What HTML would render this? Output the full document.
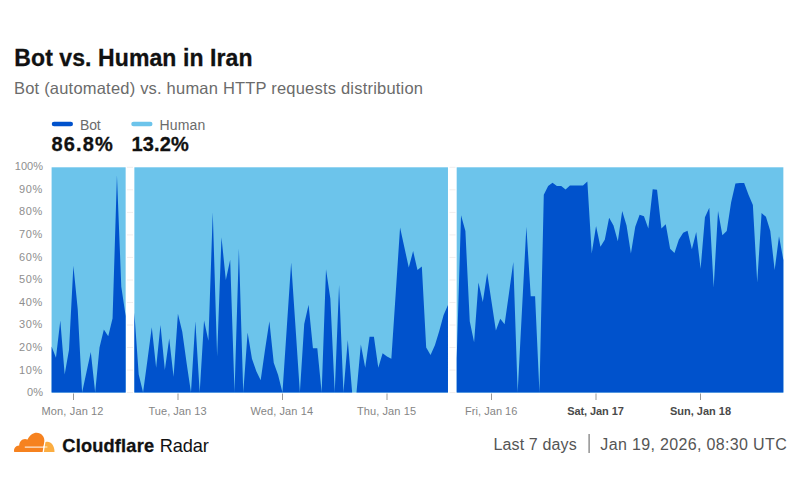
<!DOCTYPE html>
<html><head><meta charset="utf-8">
<style>
html,body{margin:0;padding:0;background:#fff;}
body{width:800px;height:500px;position:relative;overflow:hidden;font-family:"Liberation Sans",sans-serif;}
.t{position:absolute;white-space:nowrap;}
.yl{font-size:11px;color:#8e8e8e;text-align:right;width:40px;left:3px;}
.xl{font-size:11px;color:#777;transform:translateX(-50%);top:404px;}
.xl.b{font-weight:bold;color:#555;}
svg{position:absolute;left:0;top:0;}
</style></head><body>
<div class="t" id="title" style="left:14.30px;top:47.40px;font-size:23px;font-weight:bold;letter-spacing:0.088px;color:#111;line-height:1;-webkit-text-stroke:0.3px #111;">Bot vs. Human in Iran</div>
<div class="t" id="sub" style="left:14.00px;top:80.30px;font-size:16.5px;font-weight:normal;letter-spacing:0.203px;color:#6b6b6b;line-height:1;">Bot (automated) vs. human HTTP requests distribution</div>
<div class="t" id="lb" style="left:80.00px;top:117.62px;font-size:14px;font-weight:normal;letter-spacing:-0.133px;color:#6b6b6b;line-height:1;">Bot</div>
<div class="t" id="lh" style="left:159.50px;top:117.62px;font-size:14px;font-weight:normal;letter-spacing:0.152px;color:#6b6b6b;line-height:1;">Human</div>
<div class="t" id="vb" style="left:51.50px;top:134.14px;font-size:20px;font-weight:bold;letter-spacing:1.133px;color:#111;line-height:1;-webkit-text-stroke:0.3px #111;">86.8%</div>
<div class="t" id="vh" style="left:131.50px;top:134.14px;font-size:20px;font-weight:bold;letter-spacing:0.133px;color:#111;line-height:1;-webkit-text-stroke:0.3px #111;">13.2%</div>
<div class="t" id="x0" style="left:41.50px;top:405.86px;font-size:11px;font-weight:normal;letter-spacing:0.145px;color:#858585;line-height:1;">Mon, Jan 12</div>
<div class="t" id="x1" style="left:148.50px;top:405.86px;font-size:11px;font-weight:normal;letter-spacing:0.031px;color:#858585;line-height:1;">Tue, Jan 13</div>
<div class="t" id="x2" style="left:250.50px;top:405.86px;font-size:11px;font-weight:normal;letter-spacing:0.094px;color:#858585;line-height:1;">Wed, Jan 14</div>
<div class="t" id="x3" style="left:357.00px;top:405.86px;font-size:11px;font-weight:normal;letter-spacing:0.091px;color:#858585;line-height:1;">Thu, Jan 15</div>
<div class="t" id="x4" style="left:465.10px;top:405.86px;font-size:11px;font-weight:normal;letter-spacing:0.033px;color:#858585;line-height:1;">Fri, Jan 16</div>
<div class="t" id="x5" style="left:567.30px;top:405.86px;font-size:11px;font-weight:bold;letter-spacing:-0.098px;color:#4a4a4a;line-height:1;">Sat, Jan 17</div>
<div class="t" id="x6" style="left:670.00px;top:405.86px;font-size:11px;font-weight:bold;letter-spacing:-0.004px;color:#4a4a4a;line-height:1;">Sun, Jan 18</div>
<div class="t" id="cf1" style="left:62.30px;top:436.78px;font-size:18.2px;font-weight:bold;letter-spacing:0.207px;color:#111;line-height:1;-webkit-text-stroke:0.3px #111;">Cloudflare</div>
<div class="t" id="cf2" style="left:159.80px;top:436.78px;font-size:18.2px;font-weight:normal;letter-spacing:-0.137px;color:#111;line-height:1;">Radar</div>
<div class="t" id="f1" style="left:493.50px;top:436.51px;font-size:16px;font-weight:normal;letter-spacing:0.137px;color:#555;line-height:1;">Last 7 days</div>
<div class="t" id="f2" style="left:600.30px;top:436.51px;font-size:16px;font-weight:normal;letter-spacing:0.346px;color:#555;line-height:1;">Jan 19, 2026, 08:30 UTC</div>

<svg width="800" height="500" viewBox="0 0 800 500">
<rect x="51.75" y="121.7" width="21.25" height="4.6" rx="2.3" fill="#0052cc"/>
<rect x="131.25" y="121.7" width="21.25" height="4.6" rx="2.3" fill="#6cc4eb"/>
<g stroke="#f1eeee" stroke-width="1"><line x1="127" y1="392.6" x2="133" y2="392.6"/><line x1="449.5" y1="392.6" x2="455.5" y2="392.6"/><line x1="127" y1="370.1" x2="133" y2="370.1"/><line x1="449.5" y1="370.1" x2="455.5" y2="370.1"/><line x1="127" y1="347.5" x2="133" y2="347.5"/><line x1="449.5" y1="347.5" x2="455.5" y2="347.5"/><line x1="127" y1="325.0" x2="133" y2="325.0"/><line x1="449.5" y1="325.0" x2="455.5" y2="325.0"/><line x1="127" y1="302.5" x2="133" y2="302.5"/><line x1="449.5" y1="302.5" x2="455.5" y2="302.5"/><line x1="127" y1="280.0" x2="133" y2="280.0"/><line x1="449.5" y1="280.0" x2="455.5" y2="280.0"/><line x1="127" y1="257.4" x2="133" y2="257.4"/><line x1="449.5" y1="257.4" x2="455.5" y2="257.4"/><line x1="127" y1="234.9" x2="133" y2="234.9"/><line x1="449.5" y1="234.9" x2="455.5" y2="234.9"/><line x1="127" y1="212.4" x2="133" y2="212.4"/><line x1="449.5" y1="212.4" x2="455.5" y2="212.4"/><line x1="127" y1="189.8" x2="133" y2="189.8"/><line x1="449.5" y1="189.8" x2="455.5" y2="189.8"/><line x1="127" y1="167.3" x2="133" y2="167.3"/><line x1="449.5" y1="167.3" x2="455.5" y2="167.3"/></g>
<rect x="51.60" y="167.3" width="74.05" height="225.3" fill="#6cc4eb"/>
<polygon points="51.60,392.6 51.60,346.41 55.96,357.68 60.31,320.50 64.67,374.58 69.02,349.79 73.38,265.76 77.73,309.24 82.09,392.60 86.45,372.32 90.80,352.05 95.16,392.60 99.51,347.54 103.87,329.52 108.22,336.28 112.58,318.25 116.94,175.19 121.29,286.71 125.65,316.00 125.65,392.6" fill="#0052cc"/>
<rect x="134.36" y="167.3" width="313.61" height="225.3" fill="#6cc4eb"/>
<polygon points="134.36,392.6 134.36,312.62 138.71,374.58 143.07,392.60 147.43,360.16 151.78,327.26 156.14,367.82 160.49,325.01 164.85,370.07 169.20,338.53 173.56,376.83 177.92,313.75 182.27,331.77 186.63,363.31 190.98,392.60 195.34,321.18 199.69,392.60 204.05,320.50 208.41,340.78 212.76,212.36 217.12,356.55 221.47,237.14 225.83,279.95 230.18,259.67 234.54,392.60 238.90,248.41 243.25,392.60 247.61,332.44 251.96,358.81 256.32,371.20 260.67,380.21 265.03,349.79 269.38,321.18 273.74,362.64 278.10,375.03 282.45,392.60 286.81,327.26 291.16,262.38 295.52,327.26 299.87,392.60 304.23,323.88 308.59,304.73 312.94,348.22 317.30,348.22 321.65,392.60 326.01,269.36 330.36,298.65 334.72,392.60 339.08,284.91 343.43,392.60 347.79,340.11 352.14,392.60 356.50,392.60 360.85,344.61 365.21,367.82 369.57,336.73 373.92,336.73 378.28,367.82 382.63,353.17 386.99,356.55 391.34,358.81 395.70,293.47 400.06,227.46 404.41,247.51 408.77,267.56 413.12,251.11 417.48,270.04 421.83,266.43 426.19,347.54 430.55,354.97 434.90,345.29 439.26,331.09 443.61,315.10 447.97,304.96 447.97,392.6" fill="#0052cc"/>
<rect x="456.68" y="167.3" width="326.68" height="225.3" fill="#6cc4eb"/>
<polygon points="456.68,392.6 456.68,358.81 461.04,215.29 465.39,231.06 469.75,321.18 474.10,342.13 478.46,282.43 482.81,302.03 487.17,272.97 491.53,301.80 495.88,330.42 500.24,318.70 504.59,324.33 508.95,293.47 513.30,261.93 517.66,392.60 522.02,309.24 526.37,226.78 530.73,296.17 535.08,296.17 539.44,392.60 543.79,194.79 548.15,186.00 552.51,182.85 556.86,186.00 561.22,186.00 565.57,189.38 569.93,185.55 574.28,185.55 578.64,185.55 583.00,185.55 587.35,181.49 591.71,253.59 596.06,226.10 600.42,246.83 604.77,239.85 609.13,217.77 613.49,225.43 617.84,241.20 622.20,211.01 626.55,225.43 630.91,253.59 635.26,226.78 639.62,214.84 643.98,216.19 648.33,228.58 652.69,189.15 657.04,189.83 661.40,228.58 665.75,224.30 670.11,248.63 674.47,252.91 678.82,239.85 683.18,232.86 687.53,230.83 691.89,249.31 696.24,231.96 700.60,268.69 704.95,217.32 709.31,207.85 713.67,287.38 718.02,211.01 722.38,235.34 726.73,231.06 731.09,202.45 735.44,183.52 739.80,183.07 744.16,183.07 748.51,194.79 752.87,204.93 757.22,282.43 761.58,213.04 765.93,216.87 770.29,231.06 774.65,270.04 779.00,236.24 783.36,259.90 783.36,392.6" fill="#0052cc"/>
<g stroke="#999" stroke-width="1">
<line x1="73.5" y1="393.5" x2="73.5" y2="400"/>
<line x1="178" y1="393.5" x2="178" y2="400"/>
<line x1="282.5" y1="393.5" x2="282.5" y2="400"/>
<line x1="387" y1="393.5" x2="387" y2="400"/>
<line x1="491.5" y1="393.5" x2="491.5" y2="400"/>
<line x1="596" y1="393.5" x2="596" y2="400"/>
<line x1="700.5" y1="393.5" x2="700.5" y2="400"/>
</g>
<rect x="588.5" y="434" width="1.2" height="19" fill="#777"/>
<!-- cloud logo -->
<g>
<path d="M14.2 451.9 C13.4 448.6 15.6 445.5 19.2 445.5 C19.3 441 23.2 437.6 27.6 439.6 C29.4 435 33.2 432.7 36.6 432.7 C41.4 432.7 45 436.8 44.3 441.6 L42.6 451.9 Z" fill="#f6821f"/>
<path d="M43.9 451.9 L45.4 442.2 C49.5 440.3 54.6 444.2 54.5 451.9 Z" fill="#fbad41"/>
<path d="M24.8 446.4 L43 446.4 L43.8 445.6 L44.6 446.4 L47.4 446.6 L47.4 447.4 L44.6 447.6 L43.8 448.6 L43 447.7 L24.8 447.7 Z" fill="#fff" opacity="0.8"/>
</g>
</svg>
<div class="t yl" style="top:387.10px;line-height:1;letter-spacing:0;">0%</div>
<div class="t yl" style="top:364.51px;line-height:1;letter-spacing:0.7px;">10%</div>
<div class="t yl" style="top:341.92px;line-height:1;letter-spacing:0.7px;">20%</div>
<div class="t yl" style="top:319.33px;line-height:1;letter-spacing:0.7px;">30%</div>
<div class="t yl" style="top:296.74px;line-height:1;letter-spacing:0.7px;">40%</div>
<div class="t yl" style="top:274.15px;line-height:1;letter-spacing:0.7px;">50%</div>
<div class="t yl" style="top:251.56px;line-height:1;letter-spacing:0.7px;">60%</div>
<div class="t yl" style="top:228.97px;line-height:1;letter-spacing:0.7px;">70%</div>
<div class="t yl" style="top:206.38px;line-height:1;letter-spacing:0.7px;">80%</div>
<div class="t yl" style="top:183.79px;line-height:1;letter-spacing:0.7px;">90%</div>
<div class="t yl" style="top:161.20px;line-height:1;letter-spacing:0;">100%</div>


</body></html>
